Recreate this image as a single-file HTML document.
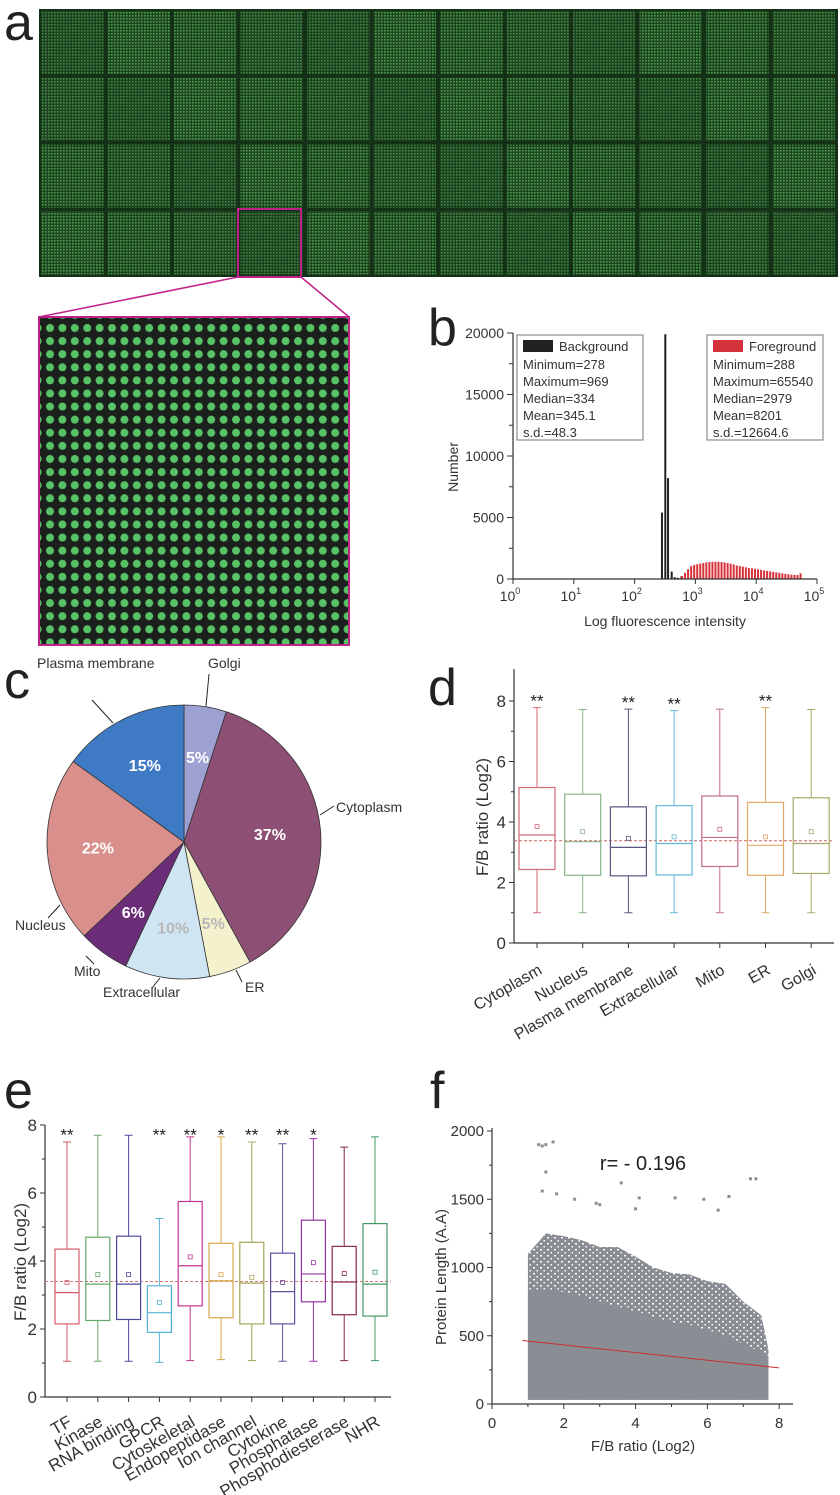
<!DOCTYPE html>
<html><head><meta charset="utf-8"><style>
html,body{margin:0;padding:0;background:#fff}
svg{display:block;font-family:"Liberation Sans",Arial,sans-serif}
</style></head><body>
<svg id="fig" width="840" height="1495" viewBox="0 0 840 1495" xmlns="http://www.w3.org/2000/svg">
<defs>
<pattern id="micro" width="3" height="3" patternUnits="userSpaceOnUse"><rect width="3" height="3" fill="#1d4520"/><rect width="1.6" height="1.6" fill="#4e9c4e"/></pattern>
<pattern id="spots" x="44" y="322" width="12.4" height="13.1" patternUnits="userSpaceOnUse"><rect width="12.4" height="13.1" fill="#1b201c"/><circle cx="6" cy="6" r="4" fill="#58c266"/></pattern>
<pattern id="speck" width="7" height="6" patternUnits="userSpaceOnUse"><rect width="7" height="6" fill="#8a8e94"/><rect x="1" y="1" width="2" height="1.5" fill="#fff"/><rect x="4.5" y="4" width="1.5" height="1.5" fill="#fff"/></pattern>
</defs>
<g font-size="52" fill="#222">
<text x="4" y="40">a</text>
<text x="428" y="345">b</text>
<text x="4" y="698">c</text>
<text x="428" y="705">d</text>
<text x="4" y="1108">e</text>
<text x="430" y="1108">f</text>
</g>
<g id="pa">
<rect x="39" y="9" width="799" height="268" fill="#143016"/>
<rect x="39" y="317" width="310" height="328" fill="url(#spots)" stroke="#c0208a" stroke-width="2"/>
<line x1="238" y1="277" x2="39" y2="317" stroke="#c0208a" stroke-width="1.5"/>
<line x1="301" y1="277" x2="349" y2="317" stroke="#c0208a" stroke-width="1.5"/>
</g>
<g id="pb"></g>
<g id="pc"></g>
<g id="pd"></g>
<g id="pe"></g>
<g id="pf"></g>
</svg>
<script>
// ---------- data ----------
const bgLog=[2.45,2.505,2.55,2.61,2.66,2.71,2.77];
const bgCount=[5400,19900,8200,600,150,100,200];
const fgStart=2.78, fgStep=0.05;
const fgCount=[250,500,800,1050,1150,1200,1250,1300,1350,1380,1400,1400,1400,1380,1350,1300,1250,1180,1100,1050,1000,950,900,870,830,780,740,700,660,620,580,540,500,460,420,380,350,330,320,450];
const pieLabels=["Golgi","Cytoplasm","ER","Extracellular","Mito","Nucleus","Plasma membrane"];
const piePct=[5,37,5,10,6,22,15];
const pieColors=["#9da1d2","#8e4f75","#f4f1cd","#cfe5f4","#6b2d78","#d98f8b","#3f7bc5"];
const pieTextColors=["#fff","#fff","#b8b8b8","#b8b8b8","#fff","#fff","#fff"];
const dCats=["Cytoplasm","Nucleus","Plasma membrane","Extracellular","Mito","ER","Golgi"];
const dQ1=[2.43,2.24,2.22,2.25,2.53,2.24,2.30];
const dMed=[3.57,3.35,3.16,3.29,3.49,3.23,3.29];
const dQ3=[5.14,4.92,4.50,4.54,4.86,4.65,4.80];
const dMean=[3.85,3.68,3.46,3.51,3.76,3.51,3.68];
const dMin=[1.0,1.0,1.0,1.0,1.0,1.0,1.0];
const dMax=[7.78,7.72,7.73,7.68,7.73,7.78,7.72];
const dStars=["**","","**","**","","**",""];
const dColors=["#d26a78","#86b486","#565680","#62b8d8","#c46a94","#e2a866","#a8a86a"];
const dRef=3.38;
const eCats=["TF","Kinase","RNA binding","GPCR","Cytoskeletal","Endopeptidase","Ion channel","Cytokine","Phosphatase","Phosphodiesterase","NHR"];
const eQ1=[2.15,2.25,2.28,1.90,2.68,2.33,2.15,2.15,2.80,2.42,2.38];
const eMed=[3.07,3.32,3.32,2.48,3.86,3.42,3.35,3.10,3.62,3.38,3.32];
const eQ3=[4.35,4.70,4.73,3.27,5.75,4.52,4.55,4.23,5.20,4.43,5.10];
const eMean=[3.37,3.60,3.60,2.78,4.12,3.60,3.52,3.37,3.95,3.63,3.67];
const eMin=[1.05,1.05,1.05,1.02,1.07,1.10,1.07,1.05,1.05,1.07,1.07];
const eMax=[7.50,7.70,7.70,5.25,7.65,7.65,7.50,7.45,7.60,7.35,7.65];
const eStars=["**","","","**","**","*","**","**","*","",""];
const eColors=["#d45a6a","#66a866","#4a4aa0","#58b4d4","#c03494","#d8a848","#a4a458","#6050a4","#9434a4","#882848","#449864"];
const eRef=3.4;
const fEnvX=[1,1.5,2,2.5,3,3.5,4,4.5,5,5.5,6,6.5,7,7.5,7.7];
const fOuter=[1100,1250,1230,1200,1150,1150,1080,1000,960,950,900,880,750,650,400];
const fCore=[820,840,820,790,750,710,680,640,600,580,540,500,440,380,330];
const fOutX=[1.3,1.4,1.5,1.7,1.5,1.4,1.8,3.6,2.3,4.1,5.1,6.6,7.2,7.35,5.9,6.3,4.0,3.0,2.9];
const fOutY=[1900,1890,1900,1920,1700,1560,1540,1620,1500,1510,1510,1520,1650,1650,1500,1420,1430,1460,1470];
const fFitX=[0.85,8.0];
const fFitY=[465,265];
const fR="r= - 0.196";

const NS="http://www.w3.org/2000/svg";
function mk(tag,attrs,parent){const e=document.createElementNS(NS,tag);for(const k in attrs)e.setAttribute(k,attrs[k]);parent.appendChild(e);return e;}
let el;

// ---------- panel a blocks ----------
const pa=document.getElementById('pa');
const zoomBox=pa.children[1];
for(let r=0;r<4;r++)for(let c=0;c<12;c++){
 el=mk('rect',{x:41+c*66.5,y:11+r*66.8,width:62.5,height:63,fill:'url(#micro)',opacity:(0.8+((r*5+c*7)%4)*0.07).toFixed(2)},pa);
 pa.insertBefore(el,zoomBox);
 
 
}
el=mk('rect',{x:238,y:209,width:63,height:68,fill:'none',stroke:'#c0208a','stroke-width':2},pa);



// ---------- panel b histogram ----------
const pb=document.getElementById('pb');
const xb=v=>513+v*60.8, yb=c=>579-c*(246/20000);
bgLog.forEach((v,i)=>{
 el=mk('rect',{x:xb(v)-1,y:yb(bgCount[i]),width:2,height:579-yb(bgCount[i]),fill:'#222'},pb);
 
 
});
fgCount.forEach((c,i)=>{
 const v=fgStart+i*fgStep;
 el=mk('rect',{x:xb(v)-1,y:yb(c),width:2,height:579-yb(c),fill:'#d6323c'},pb);
 
 
});
el=mk('path',{d:'M513 333 V579 H817',fill:'none',stroke:'#333','stroke-width':1.2},pb);


for(let k=0;k<=5;k++){
 el=mk('line',{x1:xb(k),y1:579,x2:xb(k),y2:584,stroke:'#333'},pb);
 
 
 el=mk('text',{x:xb(k)-3,y:601,'font-size':14,fill:'#333','text-anchor':'middle'},pb);
 
 
 el.innerHTML='10<tspan dy="-7" font-size="9">'+k+'</tspan>';
}
for(let t=0;t<=20000;t+=2500){
 el=mk('line',{x1:513,y1:yb(t),x2:t%5000?509:507,y2:yb(t),stroke:'#333'},pb);
 
 
 if(t%5000===0){
  el=mk('text',{x:504,y:yb(t)+5,'font-size':14,fill:'#333','text-anchor':'end'},pb);
  
  
  el.textContent=t;
 }
}
el=mk('text',{x:665,y:626,'font-size':14,fill:'#333','text-anchor':'middle'},pb);


el.textContent='Log fluorescence intensity';
el=mk('text',{x:0,y:0,'font-size':14,fill:'#333','text-anchor':'middle',transform:'translate(458,467) rotate(-90)'},pb);


el.textContent='Number';
[[517,'#222','Background',['Minimum=278','Maximum=969','Median=334','Mean=345.1','s.d.=48.3'],126],
 [707,'#d6323c','Foreground',['Minimum=288','Maximum=65540','Median=2979','Mean=8201','s.d.=12664.6'],116]].forEach(L=>{
 el=mk('rect',{x:L[0],y:335,width:L[4],height:105,fill:'#fff',stroke:'#777'},pb);
 
 
 el=mk('rect',{x:L[0]+6,y:340,width:30,height:12,fill:L[1]},pb);
 
 
 el=mk('text',{x:L[0]+42,y:351,'font-size':13,fill:'#333'},pb);
 
 
 el.textContent=L[2];
 L[3].forEach((s,j)=>{
  el=mk('text',{x:L[0]+6,y:369+j*17,'font-size':13,fill:'#333'},pb);
  
  
  el.textContent=s;
 });
});

// ---------- panel c pie ----------
const pc=document.getElementById('pc');
const cx=184,cy=842,R=137;
let a0=-Math.PI/2;
piePct.forEach((p,i)=>{
 const a1=a0+p/100*2*Math.PI;
 const large=(a1-a0)>Math.PI?1:0;
 el=mk('path',{d:`M${cx} ${cy} L${cx+R*Math.cos(a0)} ${cy+R*Math.sin(a0)} A${R} ${R} 0 ${large} 1 ${cx+R*Math.cos(a1)} ${cy+R*Math.sin(a1)} Z`,fill:pieColors[i],stroke:'#333','stroke-width':0.8},pc);
 
 
 const am=(a0+a1)/2, rr=R*0.63;
 el=mk('text',{x:cx+rr*Math.cos(am),y:cy+rr*Math.sin(am)+6,'font-size':16,'font-weight':'bold',fill:pieTextColors[i],'text-anchor':'middle'},pc);
 
 
 el.textContent=p+'%';
 a0=a1;
});
[["Plasma membrane",37,668,[113,723,92,700]],["Golgi",208,668,[206,706,209,674]],["Cytoplasm",336,812,[320,815,334,806]],
 ["ER",245,992,[236,970,242,982]],["Extracellular",103,997,[160,978,152,988]],["Mito",74,976,[86,956,94,964]],["Nucleus",15,930,[60,905,48,918]]].forEach(o=>{
 el=mk('line',{x1:o[3][0],y1:o[3][1],x2:o[3][2],y2:o[3][3],stroke:'#222'},pc);
 
 
 el=mk('text',{x:o[1],y:o[2],'font-size':14,fill:'#333'},pc);
 
 
 el.textContent=o[0];
});

// ---------- box plot helper ----------
function boxPanel(g,o){
 const y=v=>o.y0-v*o.k;
 el=mk('path',{d:`M${o.ax} ${o.ytop} V${o.y0} H${o.xend}`,fill:'none',stroke:'#333','stroke-width':1.2},g);
 
 
 for(let t=0;t<=8;t++){
  el=mk('line',{x1:o.ax,y1:y(t),x2:o.ax-(t%2?3:5),y2:y(t),stroke:'#333'},g);
  
  
  if(t%2===0){
   el=mk('text',{x:o.ax-8,y:y(t)+6,'font-size':17,fill:'#333','text-anchor':'end'},g);
   
   
   el.textContent=t;
  }
 }
 el=mk('line',{x1:o.ax,y1:y(o.ref),x2:o.xend,y2:y(o.ref),stroke:'#c86464','stroke-dasharray':'3,2','stroke-width':0.9},g);
 
 
 o.cats.forEach((c,i)=>{
  const x=o.x0+i*o.dx, w=o.bw, col=o.colors[i];
  el=mk('line',{x1:x,y1:o.y0,x2:x,y2:o.y0+5,stroke:'#333'},g);
  
  
  el=mk('line',{x1:x,y1:y(o.max[i]),x2:x,y2:y(o.q3[i]),stroke:col},g);
  
  
  el=mk('line',{x1:x,y1:y(o.q1[i]),x2:x,y2:y(o.min[i]),stroke:col},g);
  
  
  el=mk('path',{d:`M${x-4} ${y(o.max[i])} H${x+4} M${x-4} ${y(o.min[i])} H${x+4}`,stroke:col},g);
  
  
  el=mk('rect',{x:x-w/2,y:y(o.q3[i]),width:w,height:y(o.q1[i])-y(o.q3[i]),fill:'none',stroke:col,'stroke-width':1.2},g);
  
  
  el=mk('line',{x1:x-w/2,y1:y(o.med[i]),x2:x+w/2,y2:y(o.med[i]),stroke:col,'stroke-width':1.2},g);
  
  
  el=mk('rect',{x:x-2,y:y(o.mean[i])-2,width:4,height:4,fill:'none',stroke:col,'stroke-width':0.8},g);
  
  
  if(o.stars[i]){
   const sy=o.starY!==undefined?y(o.starY):y(o.max[i])-3+o.starOff;
   el=mk('text',{x:x,y:sy,'font-size':17,fill:'#222','text-anchor':'middle'},g);
   
   
   el.textContent=o.stars[i];
  }
  el=mk('text',{x:0,y:0,'font-size':o.fs,fill:'#333','text-anchor':'end',transform:`translate(${x+6},${o.y0+o.ly}) rotate(-30)`},g);
  
  
  el.textContent=c;
 });
 el=mk('text',{x:0,y:0,'font-size':17,fill:'#333','text-anchor':'middle',transform:`translate(${o.tx},${o.ty}) rotate(-90)`},g);
 
 
 el.textContent='F/B ratio (Log2)';
}
boxPanel(document.getElementById('pd'),{cats:dCats,q1:dQ1,med:dMed,q3:dQ3,mean:dMean,min:dMin,max:dMax,stars:dStars,colors:dColors,ref:dRef,
 y0:943,k:30.25,ax:514,ytop:669,xend:834,x0:537,dx:45.7,bw:36,fs:16,ly:30,tx:488,ty:817,starOff:2});
boxPanel(document.getElementById('pe'),{cats:eCats,q1:eQ1,med:eMed,q3:eQ3,mean:eMean,min:eMin,max:eMax,stars:eStars,colors:eColors,ref:eRef,
 y0:1397,k:34,ax:45,ytop:1125,xend:391,x0:67,dx:30.8,bw:24,fs:17,ly:28,tx:26,ty:1262,starOff:0,starY:7.55});

// ---------- panel f scatter ----------
const pf=document.getElementById('pf');
const xf=v=>492+v*35.9, yf=v=>1404-v*0.1365;
let envTop=fEnvX.map((x,i)=>`${xf(x)},${yf(fOuter[i])}`).join(' ');
el=mk('polygon',{points:`${xf(fEnvX[0])},${yf(30)} ${envTop} ${xf(fEnvX[fEnvX.length-1])},${yf(30)}`,fill:'url(#speck)'},pf);


envTop=fEnvX.map((x,i)=>`${xf(x)},${yf(fCore[i])}`).join(' ');
el=mk('polygon',{points:`${xf(fEnvX[0])},${yf(30)} ${envTop} ${xf(fEnvX[fEnvX.length-1])},${yf(30)}`,fill:'#8a8e94'},pf);


fOutX.forEach((x,i)=>{
 el=mk('rect',{x:xf(x)-1.5,y:yf(fOutY[i])-1.5,width:3,height:3,fill:'#8a8e94'},pf);
 
 
});
el=mk('line',{x1:xf(fFitX[0]),y1:yf(fFitY[0]),x2:xf(fFitX[1]),y2:yf(fFitY[1]),stroke:'#c83030','stroke-width':1},pf);


el=mk('path',{d:`M492 1128 V1404 H793`,fill:'none',stroke:'#333','stroke-width':1.2},pf);


for(let t=0;t<=8;t++){
 el=mk('line',{x1:xf(t),y1:1404,x2:xf(t),y2:t%2?1407:1409,stroke:'#333'},pf);
 
 
 if(t%2===0){
  el=mk('text',{x:xf(t),y:1428,'font-size':15,fill:'#333','text-anchor':'middle'},pf);
  
  
  el.textContent=t;
 }
}
for(let t=0;t<=2000;t+=250){
 el=mk('line',{x1:492,y1:yf(t),x2:t%500?489:487,y2:yf(t),stroke:'#333'},pf);
 
 
 if(t%500===0){
  el=mk('text',{x:484,y:yf(t)+5,'font-size':15,fill:'#333','text-anchor':'end'},pf);
  
  
  el.textContent=t;
 }
}
el=mk('text',{x:643,y:1451,'font-size':15,fill:'#333','text-anchor':'middle'},pf);


el.textContent='F/B ratio (Log2)';
el=mk('text',{x:0,y:0,'font-size':15,fill:'#333','text-anchor':'middle',transform:'translate(446,1277) rotate(-90)'},pf);


el.textContent='Protein Length (A.A)';
el=mk('text',{x:643,y:1170,'font-size':20,fill:'#222','text-anchor':'middle'},pf);


el.textContent=fR;
</script>
</body></html>
